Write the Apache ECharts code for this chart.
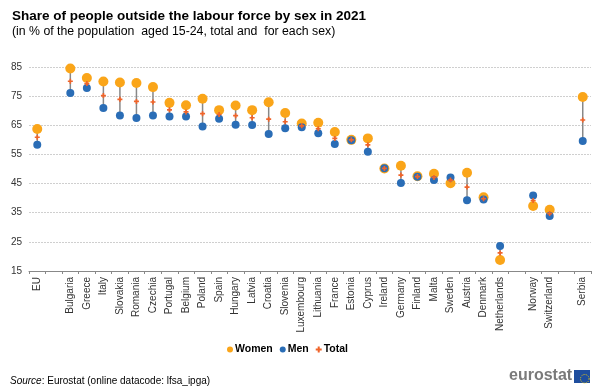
<!DOCTYPE html>
<html><head><meta charset="utf-8">
<script src="https://cdn.jsdelivr.net/npm/echarts@6/dist/echarts.min.js"></script>
<style>html,body{margin:0;padding:0;background:#fff}#c{width:600px;height:390px}</style>
</head><body><div id="c"></div>
<script>
var categories = ['EU',' ','Bulgaria','Greece','Italy','Slovakia','Romania','Czechia','Portugal','Belgium','Poland','Spain','Hungary','Latvia','Croatia','Slovenia','Luxembourg','Lithuania','France','Estonia','Cyprus','Ireland','Germany','Finland','Malta','Sweden','Austria','Denmark','Netherlands','  ','Norway','Switzerland','   ','Serbia'];
var women = [63.7,null,84.5,81.2,80.0,79.7,79.5,78.1,72.7,71.9,74.1,70.2,71.8,70.2,72.9,69.2,65.6,65.9,62.7,60.0,60.5,50.2,51.1,47.5,48.4,45.1,48.7,40.3,18.8,null,37.3,36.0,null,74.7];
var men = [58.3,null,76.1,77.8,70.9,68.4,67.5,68.4,68.0,68.0,64.6,67.2,65.2,65.1,62.0,64.0,64.3,62.3,58.6,59.9,55.9,50.3,45.2,47.3,46.2,47.1,39.3,39.5,23.6,null,40.9,33.9,null,59.6];
var total = [60.9,null,80.1,79.3,75.2,73.9,73.2,73.0,70.3,69.6,69.0,68.7,68.3,67.6,67.1,66.2,64.8,63.8,60.5,60.0,58.3,50.2,47.9,47.4,47.1,46.2,43.8,39.8,21.2,null,39.2,34.7,null,66.8];
var yTicks = {min:15, max:85, interval:10};

function pairs(arr){ var o=[]; arr.forEach(function(v,i){ if(v!==null) o.push([i,v]); }); return o; }
var linkData = [];
categories.forEach(function(c,i){ if(women[i]!==null) linkData.push([i, women[i], men[i]]); });

var chart = echarts.init(document.getElementById('c'));
var plus = 'path://M2,0H4V2H6V4H4V6H2V4H0V2H2Z';
var FF = 'Liberation Sans, Arial, sans-serif';
chart.setOption({
  animation:false,
  textStyle:{fontFamily:FF},
  title:[
    {text:'Share of people outside the labour force by sex in 2021', left:7, top:4,
     textStyle:{fontSize:13.5, fontWeight:'bold', color:'#000', fontFamily:FF}},
    {text:'(in % of the population  aged 15-24, total and  for each sex)', left:7, top:21,
     textStyle:{fontSize:12.3, fontWeight:'normal', color:'#000', fontFamily:FF}}
  ],
  legend:{
    data:[{name:'Women',icon:'circle'},{name:'Men',icon:'circle'},{name:'Total',icon:plus}],
    left:222, top:339, itemWidth:6, itemHeight:6, itemGap:7,
    textStyle:{fontSize:10.5, fontWeight:'bold', color:'#000', padding:[0,0,0,-3]}
  },
  grid:{left:29, right:9, top:67, bottom:119},
  xAxis:{
    type:'category', data:categories, boundaryGap:true,
    axisLine:{lineStyle:{color:'#888'}},
    axisTick:{show:true, interval:0, length:3, lineStyle:{color:'#888'}},
    axisLabel:{rotate:90, interval:0, fontSize:10, color:'#333', margin:6}
  },
  yAxis:{
    type:'value', min:yTicks.min, max:yTicks.max, interval:yTicks.interval,
    axisLine:{show:false}, axisTick:{show:false},
    axisLabel:{fontSize:10, color:'#333', margin:7},
    splitLine:{lineStyle:{color:'#cfcfcf', type:[2,1]}}
  },
  series:[
    {type:'custom', name:'link', data:linkData, z:1, silent:true,
     encode:{x:0, y:[1,2]},
     renderItem:function(params, api){
       var p1 = api.coord([api.value(0), api.value(1)]);
       var p2 = api.coord([api.value(0), api.value(2)]);
       return {type:'line', shape:{x1:p1[0], y1:p1[1], x2:p2[0], y2:p2[1]},
               style:{stroke:'#888', lineWidth:1.5}};
     }},
    {type:'scatter', name:'Women', data:pairs(women), symbol:'circle', symbolSize:10, z:2,
     itemStyle:{color:'#FAA519', opacity:1}},
    {type:'scatter', name:'Men', data:pairs(men), symbol:'circle', symbolSize:8, z:3,
     itemStyle:{color:'#2A6DB6', opacity:1}},
    {type:'scatter', name:'Total', data:pairs(total), symbol:plus, symbolSize:5, z:4,
     itemStyle:{color:'#F0642A', opacity:1}}
  ],
  graphic:[
    {type:'text', left:10, top:376, style:{rich:{i:{fontStyle:'italic', fontSize:10, fill:'#000'}, n:{fontSize:10, fill:'#000'}},
      text:'{i|Source}{n|: Eurostat (online datacode: lfsa_ipga)}', fontFamily:FF}},
    {type:'text', left:509, top:368, style:{text:'eurostat', fontSize:16, fontWeight:'bold', fill:'#7a7a7a', fontFamily:FF}},
    {type:'rect', left:574, top:370, shape:{width:16, height:13}, style:{fill:'#1F4E9E'}},
    {type:'circle', left:578, top:372, shape:{r:4.3}, style:{fill:'none', stroke:'#F5D10A', lineWidth:1, lineDash:[1,1.3]}}
  ]
});
</script></body></html>
